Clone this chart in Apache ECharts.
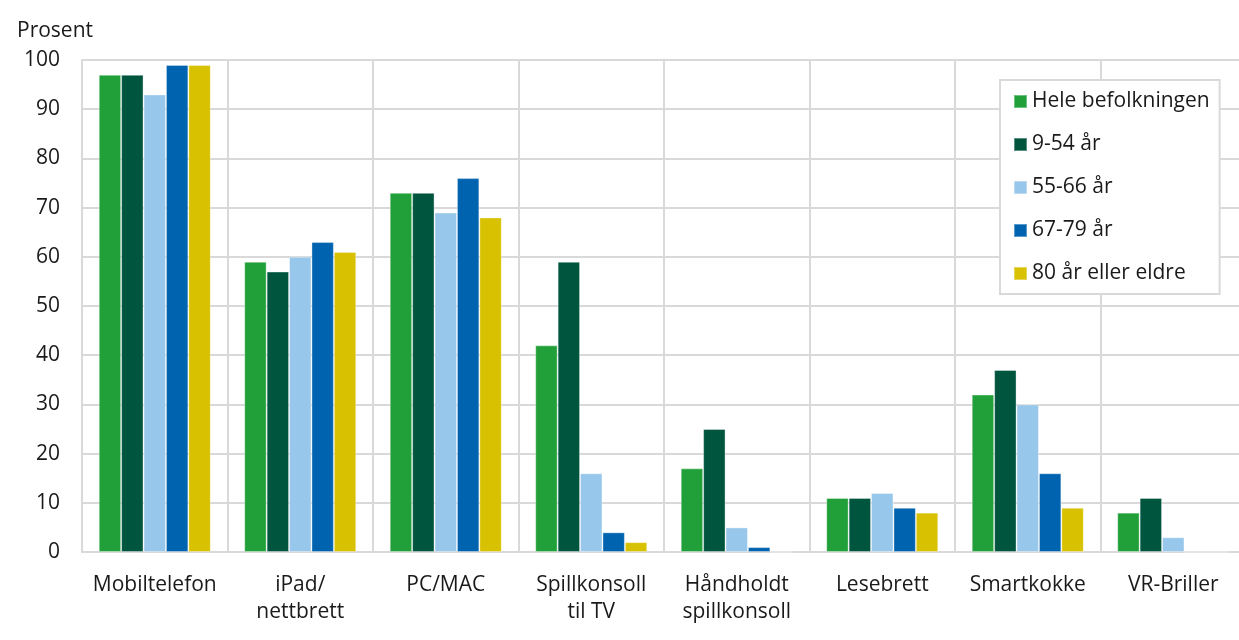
<!DOCTYPE html>
<html><head><meta charset="utf-8">
<script src="https://cdn.jsdelivr.net/npm/echarts@6/dist/echarts.min.js"></script>
<style>html,body{margin:0;padding:0;background:#fff}#c{width:1239px;height:640px}</style>
</head><body><div id="c"></div>
<script>
const categories = ['Mobiltelefon', 'iPad/\nnettbrett', 'PC/MAC', 'Spillkonsoll\ntil TV', 'Håndholdt\nspillkonsoll', 'Lesebrett', 'Smartkokke', 'VR-Briller'];
const seriesNames = ['Hele befolkningen', '9-54 år', '55-66 år', '67-79 år', '80 år eller eldre'];
const heleBefolkningen = [97, 59, 73, 42, 17, 11, 32, 8];
const aar9_54 = [97, 57, 73, 59, 25, 11, 37, 11];
const aar55_66 = [93, 60, 69, 16, 5, 12, 30, 3];
const aar67_79 = [99, 63, 76, 4, 1, 9, 16, 0];
const aar80pluss = [99, 61, 68, 2, 0, 8, 9, 0];
const colors = ['#21a039', '#00553f', '#97c7eb', '#0063af', '#d8c100'];
const values = [heleBefolkningen, aar9_54, aar55_66, aar67_79, aar80pluss];

const font = 'Open Sans';
const fs = 21;
const chart = echarts.init(document.getElementById('c'));
chart.setOption({
  animation: false,
  color: colors,
  textStyle: { fontFamily: font, color: '#1a1a1a' },
  grid: { left: 82, width: 1164, top: 60, bottom: 88, containLabel: false, outerBoundsMode: 'none' },
  legend: {
    orient: 'vertical', left: 1000, top: 80,
    backgroundColor: '#fff', borderColor: '#d9d9d9', borderWidth: 2,
    padding: [11, 10, 10, 13],
    itemWidth: 13, itemHeight: 13, itemGap: 22, icon: 'rect',
    textStyle: { fontFamily: font, fontSize: fs, color: '#1a1a1a', lineHeight: 18, padding: [0, 0, 0, 0] },
    data: seriesNames
  },
  xAxis: {
    type: 'category', data: categories,
    axisLine: { show: true, lineStyle: { color: '#d9d9d9', width: 2 } },
    axisTick: { show: false },
    splitLine: { show: true, lineStyle: { color: '#d9d9d9', width: 2 } },
    axisLabel: { fontFamily: font, fontSize: fs, color: '#1a1a1a', margin: 20, lineHeight: 27, interval: 0 }
  },
  yAxis: {
    type: 'value', min: 0, max: 100, interval: 10,
    name: 'Prosent', nameLocation: 'end', nameGap: 18,
    nameTextStyle: { fontFamily: font, fontSize: fs, color: '#1a1a1a', align: 'left', padding: [0, 0, 0, -65] },
    axisLine: { show: true, lineStyle: { color: '#d9d9d9', width: 2 } },
    axisTick: { show: false },
    splitLine: { show: true, lineStyle: { color: '#d9d9d9', width: 2 } },
    axisLabel: { fontFamily: font, fontSize: fs, color: '#1a1a1a', margin: 22 }
  },
  series: seriesNames.map((n, i) => ({
    name: n, type: 'bar', data: values[i],
    barGap: '0%', barCategoryGap: '23%',
    itemStyle: { color: colors[i], borderColor: 'rgba(255,255,255,0.35)', borderWidth: 1 }
  }))
});
</script></body></html>
